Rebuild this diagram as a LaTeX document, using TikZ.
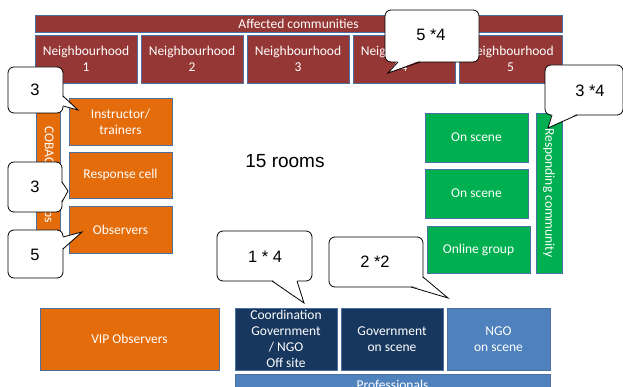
\documentclass[tikz,border=0pt]{standalone}
\usepackage{fontspec}
\setmainfont{Carlito}
\newfontfamily\arialf{Liberation Sans}
\definecolor{cred}{HTML}{953735}
\definecolor{corange}{HTML}{E46C0A}
\definecolor{cgreen}{HTML}{00B050}
\definecolor{cnavy}{HTML}{17375E}
\definecolor{cblue}{HTML}{4F81BD}
\definecolor{cborder}{HTML}{4A6FA0}
\tikzset{
 box/.style={draw=cborder, line width=0.8pt, text=white, font=\fontsize{13.5}{16}\selectfont, align=center, inner sep=0pt, anchor=center},
 redbox/.style={box, fill=cred},
 orangebox/.style={box, fill=corange},
 greenbox/.style={box, fill=cgreen},
 navybox/.style={box, fill=cnavy},
 bluebox/.style={box, fill=cblue},
 cbox/.style={draw=black, fill=white, line width=0.8pt, rounded corners=6pt},
 cline/.style={draw=black, line width=0.8pt, line join=miter},
 cnum/.style={font=\arialf\fontsize{16.5}{18}\selectfont, inner sep=0pt},
}
\newcommand\bx[7]{\node[#2, minimum width={(#5-#3)*1pt}, minimum height={(#6-#4)*1pt}] (#1) at ({(#3+#5)/2},{(#4+#6)/2}) {#7};}
\begin{document}
\begin{tikzpicture}[x=1pt,y=-1pt]
\clip (0,0) rectangle (623,387);
\fill[white] (0,0) rectangle (623,387);
% affected communities
\bx{aff}{redbox}{35}{15}{562}{32}{Affected communities}
\bx{n1}{redbox}{35}{35}{137}{83}{Neighbourhood\\1}
\bx{n2}{redbox}{141}{35}{243}{83}{Neighbourhood\\2}
\bx{n3}{redbox}{247}{35}{349}{83}{Neighbourhood\\3}
\bx{n4}{redbox}{353}{35}{455}{83}{Neighbourhood\\4}
\bx{n5}{redbox}{459}{35}{562}{83}{Neighbourhood\\5}
% COBAC
\node[orangebox, rotate=-90, minimum width=156pt, minimum height=24pt] (cobac) at (48,175) {COBAC\hspace{21pt}groups};
\bx{instr}{orangebox}{69}{98}{172}{145}{Instructor/\\trainers}
\bx{resp}{orangebox}{69}{152}{172}{198}{Response cell}
\bx{obs}{orangebox}{69}{206}{172}{253}{Observers}
% responding community
\bx{on1}{greenbox}{425}{113}{528}{162}{On scene}
\bx{on2}{greenbox}{425}{169}{528}{218}{On scene}
\bx{onl}{greenbox}{427}{226}{530}{273}{Online group}
\node[greenbox, rotate=-90, minimum width=160pt, minimum height=26pt] (rcom) at (549,193) {Responding community};
% rooms
\node[font=\arialf\fontsize{19}{22}\selectfont, inner sep=0pt] (rooms) at (285,161) {15 rooms};
% bottom
\bx{vip}{orangebox}{40}{308}{219}{370}{VIP Observers}
\bx{coord}{navybox}{235}{308}{337}{370}{Coordination\\Government\\/ NGO\\Off site}
\bx{gov}{navybox}{341}{308}{443}{370}{Government\\on scene}
\bx{ngo}{bluebox}{447}{308}{550}{370}{NGO\\on scene}
\node[bluebox, minimum width=315pt, minimum height=26pt, anchor=north] (prof) at (392.5,374) {};
\node[text=white, font=\fontsize{13.5}{16}\selectfont, inner sep=0pt] (proft) at (392.5,384.5) {Professionals};
% callouts
% 3 (instructor)
\draw[cbox] (8,67) rectangle (63,113);
\fill[white] (61.5,96) -- (78,110) -- (61.5,106) -- cycle;
\draw[cline] (63,96) -- (78,110) -- (63,106);
\node[cnum] (c1) at (35,90) {3};
% 3 (response cell)
\draw[cbox] (8,162) rectangle (62,212);
\fill[white] (60.5,182) -- (68,191) -- (60.5,202) -- cycle;
\draw[cline] (62,182) -- (68,191) -- (62,202);
\node[cnum] (c2) at (35,187) {3};
% 5 (observers)
\draw[cbox] (8,230) rectangle (63,278);
\fill[white] (61.5,237) -- (82,232) -- (61.5,249) -- cycle;
\draw[cline] (63,237) -- (82,232) -- (63,249);
\node[cnum] (c3) at (35,255) {5};
% 5 *4
\draw[cbox] (385,10) rectangle (479,62);
\fill[white] (398,60.5) -- (388,73) -- (420,60.5) -- cycle;
\draw[cline] (398,62) -- (388,73) -- (420,62);
\node[cnum] (c4) at (431,35) {5 *4};
% 3 *4
\draw[cbox] (545,65) rectangle (623,115);
\fill[white] (552,113.5) -- (548,128) -- (577,113.5) -- cycle;
\draw[cline] (552,115) -- (548,128) -- (577,115);
\node[cnum] (c5) at (590,91) {3 *4};
% 1 * 4
\draw[cbox] (217,231) rectangle (312,281);
\fill[white] (272,279.5) -- (304,303) -- (297,279.5) -- cycle;
\draw[cline] (272,281) -- (304,303) -- (297,281);
\node[cnum] (c6) at (265,257) {1 * 4};
% 2 *2
\draw[cbox] (329,237) rectangle (423,287);
\fill[white] (411,285.5) -- (448,298) -- (421.5,277) -- cycle;
\draw[cline] (411,287) -- (448,298) -- (423,277);
\node[cnum] (c7) at (375,262) {2 *2};
\end{tikzpicture}
\end{document}
